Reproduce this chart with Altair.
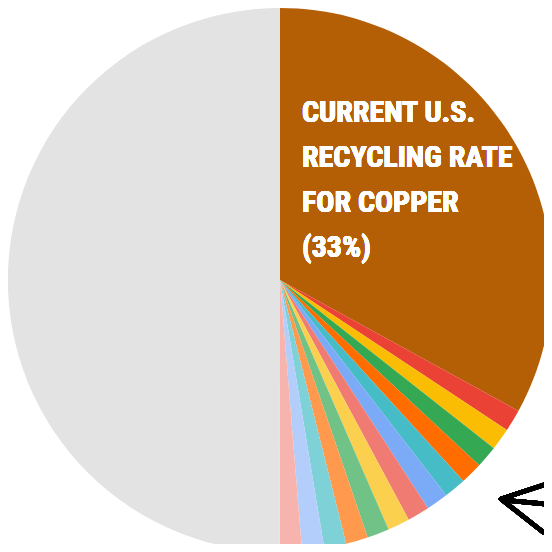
import altair as alt
import pandas as pd

# Slices in clockwise order starting at 12 o'clock
categories = [
    "Copper recycled",
    "Slice 2", "Slice 3", "Slice 4", "Slice 5", "Slice 6", "Slice 7",
    "Slice 8", "Slice 9", "Slice 10", "Slice 11", "Slice 12", "Slice 13", "Slice 14",
    "Not recycled",
]
values = [33, 1.31, 1.31, 1.31, 1.31, 1.31, 1.31, 1.31, 1.31, 1.31, 1.31, 1.31, 1.31, 1.31, 50]
colors = [
    "#b45f06",
    "#ea4335", "#fbbc04", "#34a853", "#ff6d01", "#46bdc6", "#7baaf7",
    "#f07b72", "#fcd04f", "#71c287", "#ff994d", "#7ed1d7", "#b3cefb", "#f7b4ae",
    "#e3e3e3",
]
label_lines = ["CURRENT U.S.", "RECYCLING RATE", "FOR COPPER", "(33%)"]

df = pd.DataFrame({"category": categories, "value": values, "order": list(range(len(categories)))})

pie = alt.Chart(df).mark_arc(radius=272).encode(
    theta=alt.Theta("value:Q", stack=True),
    order=alt.Order("order:Q"),
    color=alt.Color("category:N", scale=alt.Scale(domain=categories, range=colors), legend=None),
    x=alt.value(272),
    y=alt.value(272),
)

label = alt.Chart(df).mark_text(
    text=label_lines,
    align="left",
    baseline="alphabetic",
    font="Roboto Condensed, DejaVu Sans Condensed, sans-serif",
    fontWeight="bold",
    fontSize=30,
    lineHeight=45,
    color="white",
).encode(x=alt.value(294), y=alt.value(114))

arrow_top = alt.Chart(df).mark_rule(color="black", strokeWidth=4.5, strokeCap="round").encode(
    x=alt.value(493), y=alt.value(491), x2=alt.value(548), y2=alt.value(473)
)
arrow_mid = alt.Chart(df).mark_rule(color="black", strokeWidth=4.5, strokeCap="round").encode(
    x=alt.value(495), y=alt.value(492), x2=alt.value(548), y2=alt.value(497)
)
arrow_low = alt.Chart(df).mark_rule(color="black", strokeWidth=4.5, strokeCap="round").encode(
    x=alt.value(493), y=alt.value(491), x2=alt.value(535), y2=alt.value(524)
)

chart = alt.layer(pie, label, arrow_top, arrow_mid, arrow_low).properties(
    width=536, height=536, padding=0,
    autosize=alt.AutoSizeParams(type="none"),
).configure_view(stroke=None)

chart.save("out.html", embed_options={"renderer": "svg", "actions": False})
